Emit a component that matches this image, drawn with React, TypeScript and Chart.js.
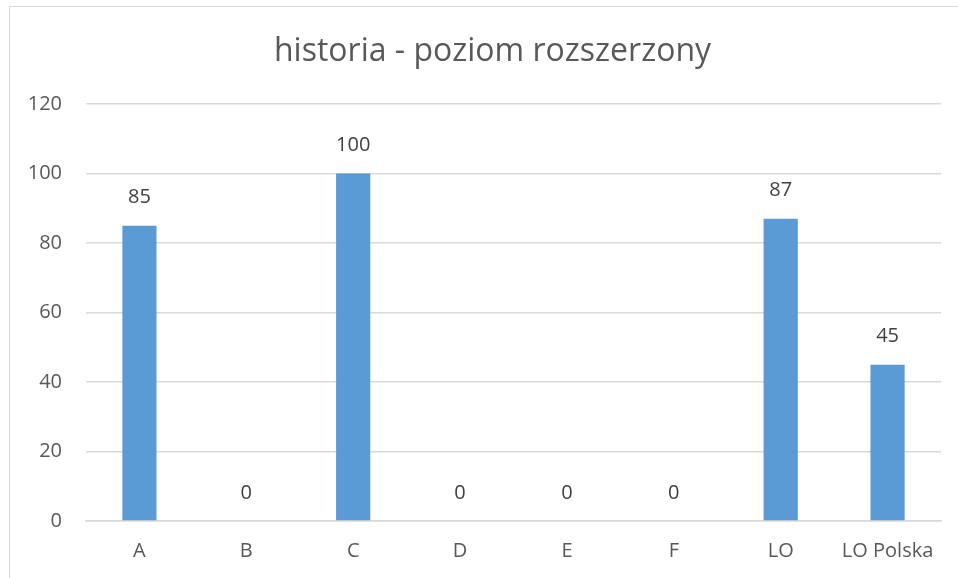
import React, { useEffect, useRef } from "react";
import { Chart, registerables } from "chart.js";

Chart.register(...registerables);

const TITLE = "historia - poziom rozszerzony";
const categories = ["A", "B", "C", "D", "E", "F", "LO", "LO Polska"];
const values = [85, 0, 100, 0, 0, 0, 87, 45];
const yTicks = [0, 20, 40, 60, 80, 100, 120];

const FONT = "'Open Sans', 'Noto Sans', sans-serif";

const valueLabels = {
  id: "valueLabels",
  afterDatasetsDraw(chart: any) {
    const ctx = chart.ctx;
    const meta = chart.getDatasetMeta(0);
    ctx.save();
    ctx.font = `20px ${FONT}`;
    ctx.fillStyle = "#404040";
    ctx.textAlign = "center";
    ctx.textBaseline = "middle";
    meta.data.forEach((el: any, i: number) => {
      const v = chart.data.datasets[0].data[i];
      ctx.fillText(String(v), el.x, el.y - 28);
    });
    ctx.restore();
  },
};

const customTitle = {
  id: "customTitle",
  afterDraw(chart: any) {
    const ctx = chart.ctx;
    ctx.save();
    ctx.font = `32px ${FONT}`;
    ctx.fillStyle = "#595959";
    ctx.textAlign = "center";
    ctx.textBaseline = "alphabetic";
    ctx.fillText(TITLE, 492.5, 61);
    ctx.restore();
  },
};

export default function App() {
  const ref = useRef<HTMLCanvasElement>(null);

  useEffect(() => {
    if (!ref.current) return;
    const chart = new Chart(ref.current, {
      type: "bar",
      data: {
        labels: categories,
        datasets: [
          {
            data: values,
            backgroundColor: "#5B9BD5",
            barPercentage: 0.32,
            categoryPercentage: 1,
          },
        ],
      },
      options: {
        responsive: false,
        animation: false,
        layout: { padding: { left: 0, right: 17, top: 104, bottom: 0 } },
        plugins: {
          legend: { display: false },
          tooltip: { enabled: false },
          title: { display: false },
        },
        scales: {
          x: {
            grid: { display: false, drawTicks: false },
            border: { display: true, color: "#d9d9d9", width: 1.5 },
            ticks: {
              color: "#595959",
              font: { family: FONT, size: 20 },
              padding: 18,
              maxRotation: 0,
              autoSkip: false,
            },
            afterFit(scale: any) {
              scale.height = 57;
            },
          },
          y: {
            min: 0,
            max: 120,
            afterBuildTicks(scale: any) {
              scale.ticks = yTicks.map((v) => ({ value: v }));
            },
            grid: { color: "#d9d9d9", lineWidth: 1.5, drawTicks: false },
            border: { display: false },
            ticks: {
              color: "#595959",
              font: { family: FONT, size: 20 },
              padding: 24,
            },
            afterFit(scale: any) {
              scale.width = 86;
            },
          },
        },
      },
      plugins: [valueLabels, customTitle],
    });
    return () => chart.destroy();
  }, []);

  return (
    <div
      style={{
        position: "fixed",
        left: 0,
        top: 0,
        width: 958,
        height: 578,
        overflow: "hidden",
        background: "#ffffff",
      }}
    >
      <div
        style={{
          position: "absolute",
          left: 9,
          top: 6,
          width: 1000,
          height: 700,
          border: "1.5px solid #d9d9d9",
          boxSizing: "border-box",
        }}
      />
      <canvas
        ref={ref}
        width={958}
        height={578}
        style={{ position: "absolute", left: 0, top: 0, width: 958, height: 578 }}
      />
    </div>
  );
}
